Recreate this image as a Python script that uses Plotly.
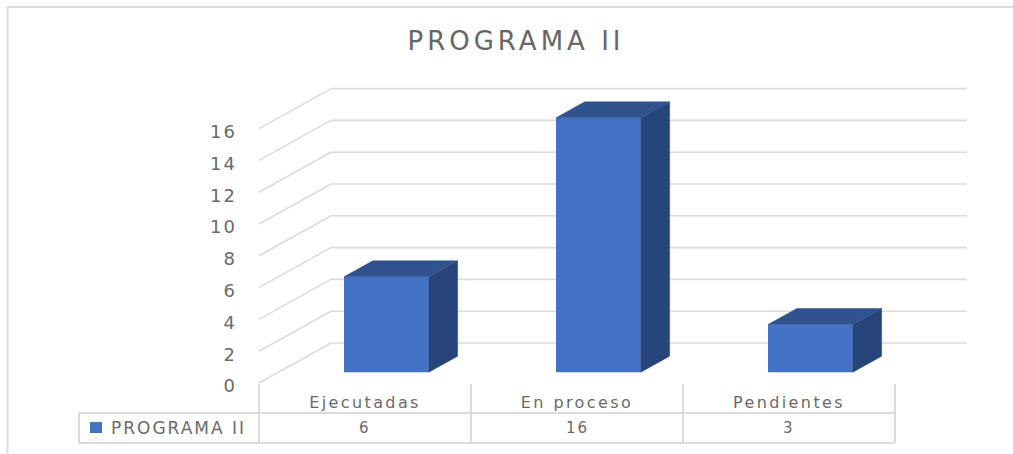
import plotly.graph_objects as go

title = "PROGRAMA II"
series_name = "PROGRAMA II"
categories = ["Ejecutadas", "En proceso", "Pendientes"]
values = [6, 16, 3]
y_ticks = [0, 2, 4, 6, 8, 10, 12, 14, 16]

FRONT = "#4472C4"
SIDE = "#27457A"
TOP = "#30528F"
GRID = "#DCDCDC"
TEXT = "#6A6A6A"
FONT = "DejaVu Sans"

# scale of the drawing
W, H = 1013, 454
PX_LEFT, PX_BOTTOM = 250, 390
SLOT = 212
UNIT = 15.9
X0_PX = 365
Y0_PX = 383
DX = 72 / SLOT          # wall depth in x units
DY = 40 / UNIT          # wall depth in value units
BAR_D = 0.27            # depth fraction of the bar front
BAR_DEPTH = 0.40        # depth of the bar as a fraction of wall depth
BAR_W = 0.40

def proj(x, v, d):
    return x + d * DX, v + d * DY

def px(p):   # page pixel -> paper fraction, horizontally
    return (p - PX_LEFT) / (W - PX_LEFT)
def py(p):   # page pixel -> paper fraction, vertically
    return (PX_BOTTOM - p) / PX_BOTTOM

fig = go.Figure()

# walls: gridlines, kept below the bars
for t in y_ticks:
    a, b, c = proj(-0.5, t, 0), proj(-0.5, t, 1), proj(2.5, t, 1)
    for s, e in ((a, b), (b, c)):
        fig.add_shape(type="line", xref="x", yref="y", x0=s[0], y0=s[1], x1=e[0], y1=e[1],
                      layer="below", line=dict(color=GRID, width=1.6))

# bar front faces
fx, base = proj(0, 0, BAR_D)
fx = (344 + 42.4 - X0_PX) / SLOT
fig.add_trace(go.Bar(x=[i + fx for i in range(len(values))], y=values, base=base, width=BAR_W,
                     marker=dict(color=FRONT, line=dict(width=0)), name=series_name,
                     showlegend=False, cliponaxis=False))

# bar sides and tops
for i, v in enumerate(values):
    x_mid = i + fx
    l, r = x_mid - BAR_W / 2, x_mid + BAR_W / 2
    bar_dx, bar_dy = BAR_DEPTH * DX, BAR_DEPTH * DY
    side = [(r, base), (r, base + v), (r + bar_dx, base + v + bar_dy), (r + bar_dx, base + bar_dy)]
    top = [(l, base + v), (r, base + v), (r + bar_dx, base + v + bar_dy), (l + bar_dx, base + v + bar_dy)]
    for poly, col in ((side, SIDE), (top, TOP)):
        xs, ys = zip(*(poly + poly[:1]))
        fig.add_trace(go.Scatter(x=xs, y=ys, mode="lines", fill="toself", fillcolor=col,
                                 line=dict(color=col, width=0.5), showlegend=False, hoverinfo="skip"))

# data table lines
def pline(x0, y0, x1, y1):
    fig.add_shape(type="line", xref="paper", yref="paper", x0=px(x0), x1=px(x1), y0=py(y0), y1=py(y1),
                  line=dict(color=GRID, width=2))

col_px = [X0_PX + (k - 0.5) * SLOT for k in range(len(categories) + 1)]
pline(79, 413, col_px[-1], 413)
pline(79, 443, col_px[-1], 443)
pline(79, 413, 79, 443)
for c in col_px:
    pline(c, 384, c, 443)

# legend key
fig.add_shape(type="rect", xref="paper", yref="paper", x0=px(90), x1=px(102), y0=py(422), y1=py(433),
              fillcolor=FRONT, line=dict(width=0))
fig.add_annotation(xref="paper", yref="paper", x=px(178), y=py(427.5), text=series_name, showarrow=False,
                   xanchor="center", yanchor="middle", font=dict(family=FONT, size=17, color=TEXT))
for i, v in enumerate(values):
    fig.add_annotation(xref="paper", yref="paper", x=px(X0_PX + i * SLOT), y=py(427.5), text=str(v),
                       showarrow=False, xanchor="center", yanchor="middle",
                       font=dict(family=FONT, size=15, color=TEXT))

# chart frame
pline(7.5, 7, 1013, 7)
pline(7.5, 7, 7.5, 454)

fig.update_layout(
    width=W, height=H, margin=dict(l=PX_LEFT, r=0, t=0, b=H - PX_BOTTOM, autoexpand=False),
    paper_bgcolor="white", plot_bgcolor="white", showlegend=False, barmode="overlay",
    title=dict(text=title, x=516 / W, xanchor="center", y=1 - 41 / H, yanchor="middle",
               font=dict(family=FONT, size=26, color="#666666")),
    xaxis=dict(range=[(PX_LEFT - X0_PX) / SLOT, (W - X0_PX) / SLOT],
               tickvals=list(range(len(categories))), ticktext=categories,
               showgrid=False, zeroline=False, showline=False, ticks="",
               tickfont=dict(family=FONT, size=16, color=TEXT), ticklabelstandoff=1),
    yaxis=dict(range=[(Y0_PX - PX_BOTTOM) / UNIT, Y0_PX / UNIT], tickvals=y_ticks,
               showgrid=False, zeroline=False, showline=False, ticks="",
               tickfont=dict(family=FONT, size=18, color=TEXT), ticklabelstandoff=12,
               ticklabelshift=3),
)

css = (".gtitle{letter-spacing:4px} .xtick text{letter-spacing:2.4px} "
       ".ytick text{letter-spacing:2px} .annotation-text{letter-spacing:2px}")
fig.write_html("out.html", config={"displayModeBar": False},
               post_script="document.body.style.margin='0';"
                           "var s=document.createElement('style');s.textContent='" + css + "';"
                           "document.head.appendChild(s);")
